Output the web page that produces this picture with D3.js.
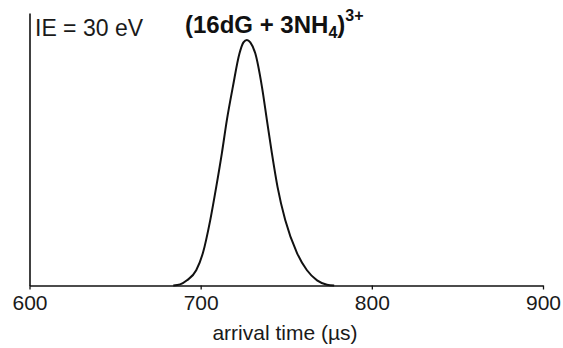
<!DOCTYPE html>
<html>
<head>
<meta charset="utf-8">
<script src="https://cdn.jsdelivr.net/npm/d3@7"></script>
<style>
  body { margin: 0; background: #fff; }
  svg { font-family: "Liberation Sans", Arial, sans-serif; }
</style>
</head>
<body>
<svg id="chart" width="563" height="348"></svg>
<script>
// arrival time (us) and normalised intensity
var times = [684, 688, 692, 697.4, 701.3, 705.6, 709.1, 712.4, 715.3, 718.8, 722.7, 725, 727, 729,
             731.9, 735.8, 738.7, 741.6, 744.9, 749.4, 756.3, 762.1, 768, 773.8, 778];
var intensity = [0, 0.004, 0.019, 0.056, 0.119, 0.24, 0.362, 0.486, 0.607, 0.729, 0.852, 0.892, 0.901, 0.892,
                 0.852, 0.729, 0.607, 0.486, 0.362, 0.24, 0.119, 0.056, 0.019, 0.003, 0];
var xTicks = [600, 700, 800, 900];
var xDomain = [600, 900];

var svg = d3.select("#chart");
var x = d3.scaleLinear().domain(xDomain).range([29.5, 543]);
var y = d3.scaleLinear().domain([0, 1]).range([285.5, 13]);

var pts = times.map(function(t, i) { return [t, intensity[i]]; });

// x axis
var xAxis = d3.axisBottom(x)
    .tickValues(xTicks)
    .tickSize(4)
    .tickSizeOuter(0)
    .tickPadding(6)
    .tickFormat(d3.format("d"));
var gx = svg.append("g")
    .attr("transform", "translate(0," + y(0) + ")")
    .call(xAxis);
gx.select(".domain").attr("stroke", "#111").attr("stroke-width", 1.6);
gx.selectAll(".tick line").attr("stroke", "#111").attr("stroke-width", 1.3);
gx.selectAll(".tick text")
    .attr("fill", "#1a1a1a")
    .style("font-size", "21px")
    .style("font-family", "Liberation Sans, Arial, sans-serif");

// y axis (bare line)
var gy = svg.append("g")
    .attr("transform", "translate(" + x(600) + ",0)")
    .call(d3.axisLeft(y).tickValues([]).tickSizeOuter(0));
gy.select(".domain").attr("stroke", "#111").attr("stroke-width", 1.6);

// trace
var line = d3.line()
    .x(function(d) { return x(d[0]); })
    .y(function(d) { return y(d[1]); })
    .curve(d3.curveMonotoneX);
svg.append("path")
    .datum(pts)
    .attr("d", line)
    .attr("fill", "none")
    .attr("stroke", "#111")
    .attr("stroke-width", 2);

// labels
svg.append("text")
    .attr("x", 35)
    .attr("y", 36)
    .attr("fill", "#1a1a1a")
    .style("font-size", "23px")
    .text("IE = 30 eV");

var title = svg.append("text")
    .attr("x", 185)
    .attr("y", 33)
    .attr("fill", "#111")
    .style("font-size", "24px")
    .style("font-weight", "bold");
title.append("tspan").text("(16dG + 3NH");
title.append("tspan").attr("dy", 5).style("font-size", "16px").text("4");
title.append("tspan").attr("dy", -5).text(")");
title.append("tspan").attr("dy", -12).style("font-size", "16px").text("3+");

svg.append("text")
    .attr("x", 285)
    .attr("y", 340)
    .attr("text-anchor", "middle")
    .attr("fill", "#1a1a1a")
    .style("font-size", "21px")
    .text("arrival time (\u00b5s)");
</script>
</body>
</html>
